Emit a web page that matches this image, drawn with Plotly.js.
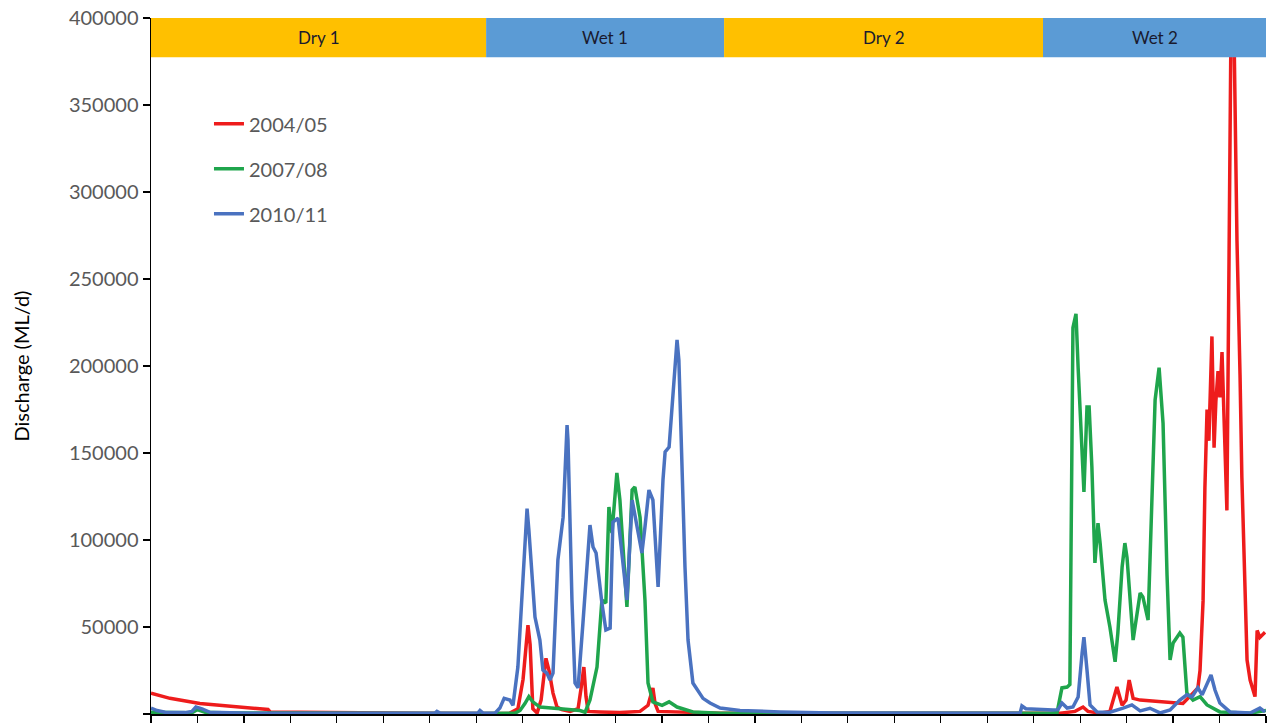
<!DOCTYPE html>
<html>
<head>
<meta charset="utf-8">
<script src="https://cdn.plot.ly/plotly-3.0.1.min.js"></script>
<style>html,body{margin:0;padding:0;background:#fff;}#chart{width:1276px;height:724px;}</style>
</head>
<body>
<div id="chart"></div>
<script>
// Day of the (water) year, 0..365
const seriesNames = ['2004/05', '2007/08', '2010/11'];
const seriesColors = ['#ee1c1c', '#1fa54c', '#4a72c0'];

const red_x = [0, 6.2, 16.0, 25.9, 32.7, 38.3, 39.0, 48.8, 68.4, 88.1, 107.7, 117.5, 120.1, 121.8, 123.4, 124.1, 125.0, 126.4, 127.7, 129.3, 130.3, 131.6, 132.9, 134.5, 137.2, 139.8, 140.8, 141.7, 142.4, 143.1, 147.0, 153.5, 160.1, 162.7, 164.3, 165.0, 166.0, 173.2, 186.3, 212.4, 277.9, 297.6, 302.5, 305.1, 306.7, 310.7, 313.9, 316.2, 317.9, 319.2, 320.2, 321.5, 323.8, 330.3, 337.8, 341.1, 342.7, 343.4, 344.4, 345.0, 345.7, 346.3, 347.3, 348.0, 348.6, 349.3, 349.9, 350.6, 352.2, 353.9, 355.5, 356.5, 357.1, 358.8, 359.8, 361.4, 362.1, 363.0, 364.7];
const red_y = [12000, 9000, 6000, 4300, 3300, 2600, 1200, 1000, 800, 500, 300, 500, 3000, 20000, 51000, 40000, 3000, 600, 8000, 32000, 25000, 12000, 4000, 2500, 1500, 3000, 15000, 27000, 10000, 1500, 1200, 800, 1500, 5000, 15000, 6000, 1500, 1000, 500, 400, 400, 500, 1500, 4000, 1500, 500, 1500, 15500, 5000, 8000, 19500, 9000, 8000, 7000, 6000, 12000, 15000, 25000, 65000, 130000, 175000, 157000, 217000, 153000, 180000, 197000, 182000, 208000, 117000, 470000, 272000, 195000, 136000, 31000, 19500, 10000, 48000, 44000, 47000];

const green_x = [0, 9.5, 13.4, 15.1, 17.7, 25.9, 48.8, 81.5, 107.7, 119.2, 120.8, 122.4, 123.7, 125.0, 127.3, 133.9, 140.4, 142.1, 143.7, 146.0, 147.6, 148.9, 149.9, 150.9, 152.5, 153.5, 154.8, 155.8, 157.5, 158.4, 160.1, 161.7, 162.7, 164.3, 167.3, 169.6, 172.2, 177.4, 186.3, 212.4, 277.9, 294.3, 296.6, 298.2, 299.9, 300.8, 301.8, 302.8, 303.5, 305.1, 305.4, 306.4, 307.1, 308.0, 309.0, 310.0, 310.7, 312.3, 313.9, 315.6, 316.5, 317.9, 318.8, 319.5, 321.5, 323.8, 324.7, 326.4, 327.7, 328.7, 330.0, 331.3, 332.6, 333.6, 334.6, 336.8, 337.8, 339.1, 341.1, 343.4, 345.7, 349.9, 359.8, 365.0];
const green_y = [1000, 700, 700, 2500, 1000, 600, 400, 300, 300, 500, 2000, 6000, 10000, 7000, 4000, 3000, 2000, 1000, 8000, 27000, 65500, 63800, 119000, 104000, 138500, 123000, 90000, 61500, 128700, 130500, 113000, 65500, 17800, 7000, 5000, 7000, 4000, 1200, 500, 400, 300, 400, 800, 15000, 15500, 17000, 222000, 230000, 199000, 131000, 127600, 176500, 176500, 142000, 86800, 109700, 98200, 65500, 50000, 30000, 46500, 84500, 98200, 90000, 42500, 69500, 67300, 54000, 120000, 180500, 199000, 167000, 80000, 31000, 40800, 46500, 44200, 12000, 8000, 10000, 5200, 1200, 500, 2000];

const blue_x = [0, 2.0, 4.6, 11.1, 13.4, 14.7, 16.7, 19.3, 32.4, 48.8, 88.1, 93.0, 93.6, 94.6, 107.0, 107.7, 108.7, 112.6, 114.2, 115.6, 117.5, 118.5, 120.1, 121.8, 123.1, 123.7, 125.7, 127.3, 128.3, 129.6, 130.6, 131.6, 133.2, 134.9, 136.2, 136.5, 137.8, 138.8, 139.8, 141.4, 142.7, 143.7, 144.7, 145.7, 147.6, 148.9, 150.3, 151.2, 152.9, 154.2, 155.8, 157.5, 159.1, 160.7, 161.7, 163.0, 164.3, 166.0, 167.6, 168.3, 169.6, 170.9, 172.2, 172.8, 173.8, 174.8, 175.8, 177.4, 180.7, 183.0, 186.3, 192.8, 205.9, 223.3, 277.9, 284.5, 285.1, 286.4, 295.3, 296.9, 298.2, 299.9, 301.8, 303.5, 304.8, 305.4, 306.4, 307.4, 309.7, 313.9, 318.2, 321.1, 323.8, 327.0, 330.3, 333.6, 336.8, 339.1, 340.8, 342.7, 344.1, 345.7, 347.0, 348.3, 349.9, 353.2, 359.8, 363.0, 364.7];
const blue_y = [3400, 2000, 1000, 800, 1500, 4000, 3000, 1000, 500, 400, 400, 500, 1500, 500, 500, 2000, 500, 500, 3400, 9000, 8000, 5000, 27000, 75000, 118000, 105700, 55700, 42500, 25300, 23500, 19500, 23500, 88500, 113000, 166000, 157400, 65500, 17800, 15000, 52300, 88500, 108600, 96000, 92500, 63800, 48300, 49400, 110300, 112600, 92500, 65500, 123000, 107500, 92500, 107500, 128700, 123000, 73000, 134500, 150600, 153400, 186200, 215000, 203400, 142000, 84500, 42500, 17800, 9000, 6300, 3400, 2000, 1200, 600, 500, 500, 4600, 3000, 2300, 2500, 6300, 3400, 4000, 9800, 35000, 44200, 25300, 5200, 1200, 1000, 3400, 5200, 1800, 3300, 600, 2300, 8000, 11000, 9800, 15000, 11000, 17800, 22400, 13800, 6300, 1200, 600, 3400, 1200];

const seasonLabels = ['Dry 1', 'Wet 1', 'Dry 2', 'Wet 2'];
const seasonStart = [0, 109.7, 187.6, 292.0];
const seasonEnd = [109.7, 187.6, 292.0, 365];
const seasonColors = ['#ffc000', '#5b9bd5', '#ffc000', '#5b9bd5'];
const bandBottom = 377500, bandTop = 400000;

const xs = [red_x, green_x, blue_x];
const ys = [red_y, green_y, blue_y];
const traces = seriesNames.map((n, i) => ({
  type: 'scatter', mode: 'lines', name: n, x: xs[i], y: ys[i],
  legendgroup: 'g' + i,
  line: {color: seriesColors[i], width: 3.5, shape: 'linear'},
  hoverinfo: 'skip'
}));

const shapes = seasonLabels.map((s, i) => ({
  type: 'rect', xref: 'x', yref: 'y', x0: seasonStart[i], x1: seasonEnd[i],
  y0: bandBottom, y1: bandTop, fillcolor: seasonColors[i], line: {width: 0}, layer: 'above'
}));
const annotations = seasonLabels.map((s, i) => ({
  xref: 'x', yref: 'y', x: (seasonStart[i] + seasonEnd[i]) / 2, y: (bandBottom + bandTop) / 2,
  text: s, showarrow: false, font: {family: 'Lato, sans-serif', size: 17, color: '#1a1a2e'},
  xanchor: 'center', yanchor: 'middle'
}));

const layout = {
  width: 1276, height: 724,
  margin: {l: 151, r: 10, t: 18, b: 10},
  paper_bgcolor: '#ffffff', plot_bgcolor: '#ffffff',
  font: {family: 'Lato, sans-serif', color: '#595959'},
  showlegend: true,
  legend: {x: 0.052, y: 0.876, xanchor: 'left', yanchor: 'top', bgcolor: 'rgba(0,0,0,0)',
    font: {size: 20, color: '#595959'}, tracegroupgap: 16, traceorder: 'grouped'},
  xaxis: {range: [0, 365], showgrid: false, zeroline: false, showline: true, linecolor: '#000', linewidth: 1.5,
    ticks: 'outside', ticklen: 7, tickcolor: '#000', tickwidth: 1.2, tickmode: 'linear', tick0: 0, dtick: 365 / 24,
    showticklabels: false, fixedrange: true},
  yaxis: {range: [0, 400000], showgrid: false, zeroline: false, showline: true, linecolor: '#000', linewidth: 1.5,
    ticks: 'outside', ticklen: 7, tickcolor: '#000', tickwidth: 1.2, tickmode: 'linear', tick0: 0, dtick: 50000,
    tickformat: 'd', tickfont: {size: 20, color: '#595959'},
    title: {text: 'Discharge (ML/d)', font: {size: 20, color: '#000'}, standoff: 34}, fixedrange: true},
  shapes: shapes,
  annotations: annotations
};

Plotly.newPlot('chart', traces, layout, {displayModeBar: false, staticPlot: true});
</script>
</body>
</html>
